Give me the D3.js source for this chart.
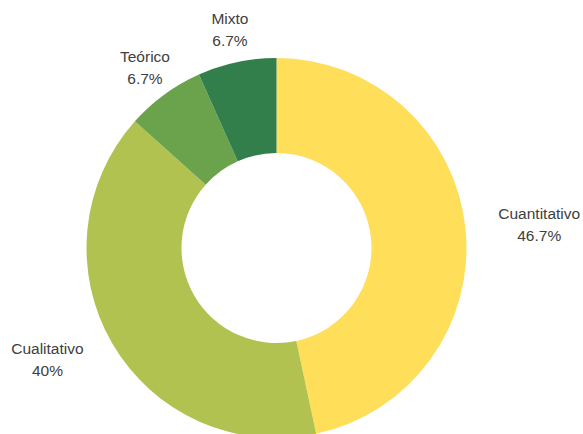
<!DOCTYPE html>
<html>
<head>
<meta charset="utf-8">
<script src="https://cdn.jsdelivr.net/npm/d3@7"></script>
<style>
  html, body { margin: 0; padding: 0; background: #ffffff; }
  svg { display: block; }
</style>
</head>
<body>
<svg id="chart" width="583" height="434"></svg>
<script>
const categories = ["Cuantitativo", "Cualitativo", "Teórico", "Mixto"];
const values = [46.7, 40, 6.7, 6.7];
const valueLabels = ["46.7%", "40%", "6.7%", "6.7%"];
const colors = ["#FFDE5A", "#B1C250", "#6AA34B", "#337F4C"];

const width = 583, height = 434;
const cx = 276.5, cy = 248;
const outerR = 190, innerR = 95, labelR = 223;

const svg = d3.select("#chart");
const g = svg.append("g").attr("transform", `translate(${cx},${cy})`);

const data = categories.map((c, i) => ({ name: c, value: values[i], label: valueLabels[i], color: colors[i] }));

const pie = d3.pie().value(d => d.value).sort(null).startAngle(0).endAngle(2 * Math.PI);
const arcs = pie(data);
const arc = d3.arc().innerRadius(innerR).outerRadius(outerR);

g.selectAll("path.slice")
  .data(arcs)
  .join("path")
  .attr("class", "slice")
  .attr("d", arc)
  .attr("fill", d => d.data.color);

const labelArc = d3.arc().innerRadius(labelR).outerRadius(labelR);

const labels = g.selectAll("g.lbl")
  .data(arcs)
  .join("g")
  .attr("class", "lbl");

const texts = labels.append("text")
  .attr("font-family", "'Liberation Sans', Arial, sans-serif")
  .attr("font-size", "15.5px")
  .attr("fill", "#404040")
  .attr("text-anchor", "middle");

texts.append("tspan").attr("x", 0).attr("y", -5.5).text(d => d.data.name);
texts.append("tspan").attr("x", 0).attr("y", 16.5).text(d => d.data.label);

labels.attr("transform", function(d) {
  const [x, y] = labelArc.centroid(d);
  const a = (d.startAngle + d.endAngle) / 2;
  const s = Math.sin(a);
  const w = d3.select(this).select("text").node().getBBox().width;
  let dx = 0;
  if (s > 0.8) dx = w / 2;
  else if (s < -0.8) dx = -w / 2;
  return `translate(${x + dx},${y})`;
});
</script>
</body>
</html>
